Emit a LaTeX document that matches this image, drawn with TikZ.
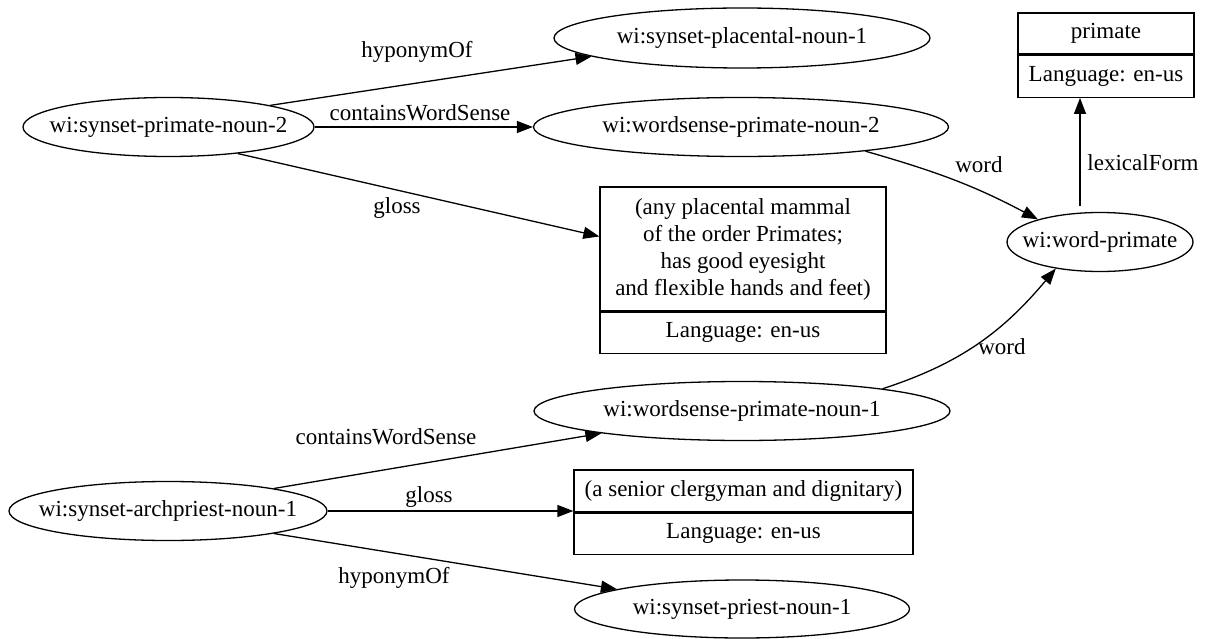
\documentclass[tikz,border=0pt]{standalone}
\usepackage{fontspec}
\setmainfont{Liberation Serif}
\usetikzlibrary{shapes.geometric,arrows.meta}

% label boxed at zero width, so that an ellipse keeps its given size
\newcommand\zerow[1]{\makebox[0pt]{#1}}

\begin{document}
\begin{tikzpicture}[x=1pt,y=-1pt,
  every node/.style={font=\fontsize{23}{27}\selectfont},
  ell/.style={draw, ellipse, inner sep=0pt, line width=1.3pt, minimum height=59pt},
  part/.style={draw, rectangle, inner sep=0pt, line width=1.3pt, align=center},
  rel/.style={line width=1.3pt, -{Triangle[length=16pt,width=12pt]}},
  lbl/.style={inner sep=0pt}]

\useasboundingbox (0,0) rectangle (1209,639);

% resources
\node[ell, minimum width=291pt] (sp2) at (168.5,127) {\zerow{wi:synset-primate-noun-2}};
\node[ell, minimum width=376pt, minimum height=60pt] (pl1) at (742,38) {\zerow{wi:synset-placental-noun-1}};
\node[ell, minimum width=415pt] (ws2) at (741,127) {\zerow{wi:wordsense-primate-noun-2}};
\node[ell, minimum width=186pt] (wp) at (1100,242) {\zerow{wi:word-primate}};
\node[ell, minimum width=416pt] (ws1) at (742,411) {\zerow{wi:wordsense-primate-noun-1}};
\node[ell, minimum width=318pt] (ap1) at (168,511) {\zerow{wi:synset-archpriest-noun-1}};
\node[ell, minimum width=335pt, minimum height=58pt] (pn1) at (742,609) {\zerow{wi:synset-priest-noun-1}};

% literal records: value on top, language below
\node[part, minimum width=286pt, minimum height=124pt] (gl1a) at (743,249)
  {(any placental mammal\\of the order Primates;\\has good eyesight\\and flexible hands and feet)};
\node[part, minimum width=286pt, minimum height=41pt, anchor=north] (gl1b) at (gl1a.south) {Language: en-us};

\node[part, minimum width=176pt, minimum height=41pt] (pra) at (1106,33.5) {primate};
\node[part, minimum width=176pt, minimum height=42pt, anchor=north] (prb) at (pra.south) {Language: en-us};

\node[part, minimum width=339pt, minimum height=42pt] (gl2a) at (743.5,491) {(a senior clergyman and dignitary)};
\node[part, minimum width=339pt, minimum height=41pt, anchor=north] (gl2b) at (gl2a.south) {Language: en-us};

\coordinate (lx) at (1080,0);

% relations
\draw[rel] (sp2.12.6) -- (pl1.187.4);
\draw[rel] (sp2.east) -- (ws2.west);
\draw[rel] (sp2.-21) -- (gl1a.175.2);
\draw[rel] (ws2.-11.2) to[out=-16,in=152] (wp.160.6);
\draw[rel] ([yshift=6pt]lx |- wp.north) -- (lx |- prb.south);
\draw[rel] (ws1.9.7) to[out=18,in=-130] (wp.-149.7);
\draw[rel] (ap1.12.1) -- (ws1.189.4);
\draw[rel] (ap1.east) -- (ap1.east -| gl2a.west);
\draw[rel] (ap1.-12.8) -- (pn1.171.2);

% relation labels
\node[lbl] (l1) at (417,52) {hyponymOf};
\node[lbl] (l2) at (420,113) {containsWordSense};
\node[lbl] (l3) at (397,208) {gloss};
\node[lbl] (l4) at (979,165) {word};
\node[lbl] (l5) at (1143,163) {lexicalForm};
\node[lbl] (l6) at (1002,347) {word};
\node[lbl] (l7) at (386,437) {containsWordSense};
\node[lbl] (l8) at (429,497) {gloss};
\node[lbl] (l9) at (394,578) {hyponymOf};
\end{tikzpicture}
\end{document}
